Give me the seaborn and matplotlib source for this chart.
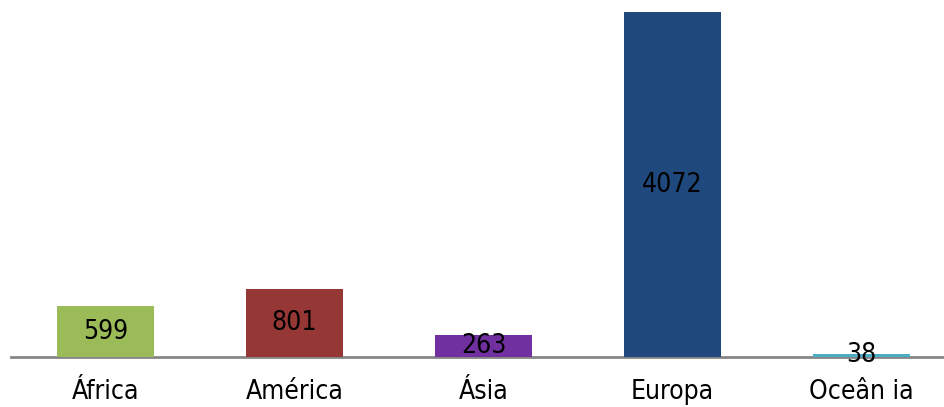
import matplotlib
matplotlib.use("Agg")
import matplotlib.pyplot as plt
import seaborn as sns
import pandas as pd

# dados
continentes = ["África", "América", "Ásia", "Europa", "Oceân ia"]
valores = [599, 801, 263, 4072, 38]
cores = ["#9BBB59", "#953735", "#7030A0", "#1F497D", "#4BACC6"]

sns.set_style("white")
plt.rcParams['font.family'] = ['DejaVu Sans']
plt.rcParams['font.stretch'] = 'condensed'

df = pd.DataFrame({"continente": continentes, "valor": valores})

fig = plt.figure(figsize=(9.45, 4.07), dpi=100)
ax = fig.add_axes([11 / 945, 50 / 407, (956 - 11) / 945, 357 / 407])

sns.barplot(data=df, x="continente", y="valor", hue="continente",
            palette=cores, width=0.515, saturation=1, legend=False,
            linewidth=0, zorder=5, ax=ax)

ax.set_ylim(0, 4072 * 357 / 345)
ax.set_xlim(-0.5, 4.5)

# rótulos no meio das barras
for i, v in enumerate(valores):
    ax.text(i, v / 2, str(v), ha="center", va="center", fontsize=19,
            color="black", fontstretch="condensed", zorder=6)

for s in ["top", "right", "left"]:
    ax.spines[s].set_visible(False)
ax.spines["bottom"].set_color("#868686")
ax.spines["bottom"].set_linewidth(2)
ax.spines["bottom"].set_zorder(1)
ax.set_yticks([])
ax.set_xlabel("")
ax.set_ylabel("")
ax.tick_params(axis="x", length=0, labelsize=19, pad=16, labelcolor="black")
for lbl in ax.get_xticklabels():
    lbl.set_fontstretch("condensed")

fig.savefig("out.png", dpi=100)
